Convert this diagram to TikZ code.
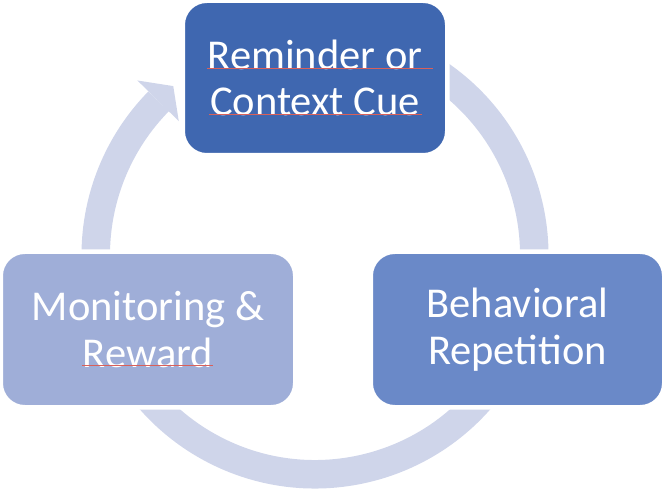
\documentclass[tikz,border=0pt]{standalone}
\usepackage{fontspec}
\setmainfont{Carlito}
\usetikzlibrary{calc}
\definecolor{ringcol}{HTML}{CFD5EA}
\definecolor{cueblue}{HTML}{3F67B0}
\definecolor{repblue}{HTML}{6A89C8}
\definecolor{monblue}{HTML}{9FAED8}
\definecolor{spellred}{HTML}{D9605A}
\begin{document}
\begin{tikzpicture}[x=1pt,y=1pt,
  stepbox/.style={draw=white, line width=4.5pt, rounded corners=24pt,
    text=white, align=center, inner sep=0pt,
    font=\fontsize{42.5}{46.5}\selectfont},
  ringline/.style={draw=ringcol, line width=28.5pt},
  spell/.style={draw=spellred, line width=0.7pt}]
\useasboundingbox (0,0) rectangle (663,490);
\coordinate (C) at (315,235);
% cycle ring, running clockwise from behind the top box round to the arrowhead
\draw[ringline] ($(C)+(60:219.25)$) arc[start angle=60, end angle=-224.5, radius=219.25];
\fill[ringcol] ($(C)+(135.5:249)$) -- ($(C)+(130:220.5)$) -- ($(C)+(135.5:191)$) -- cycle;
% the three stages
\node[stepbox, fill=cueblue, minimum width=264.5pt, minimum height=154.5pt] (cue) at (315,412) {Reminder or\\Context Cue};
\node[stepbox, fill=repblue, minimum width=293.5pt, minimum height=155.5pt] (rep) at (517.5,160.5) {Behavioral\\Repetition};
\node[stepbox, fill=monblue, minimum width=294.5pt, minimum height=155.5pt] (mon) at (148,160.5) {Monitoring \&\\Reward};
% spelling marks under the text
\draw[spell] (207,422) -- (433,422);
\draw[spell] (209,376) -- (422,376);
\draw[spell] (82,125) -- (213,125);
\end{tikzpicture}
\end{document}
